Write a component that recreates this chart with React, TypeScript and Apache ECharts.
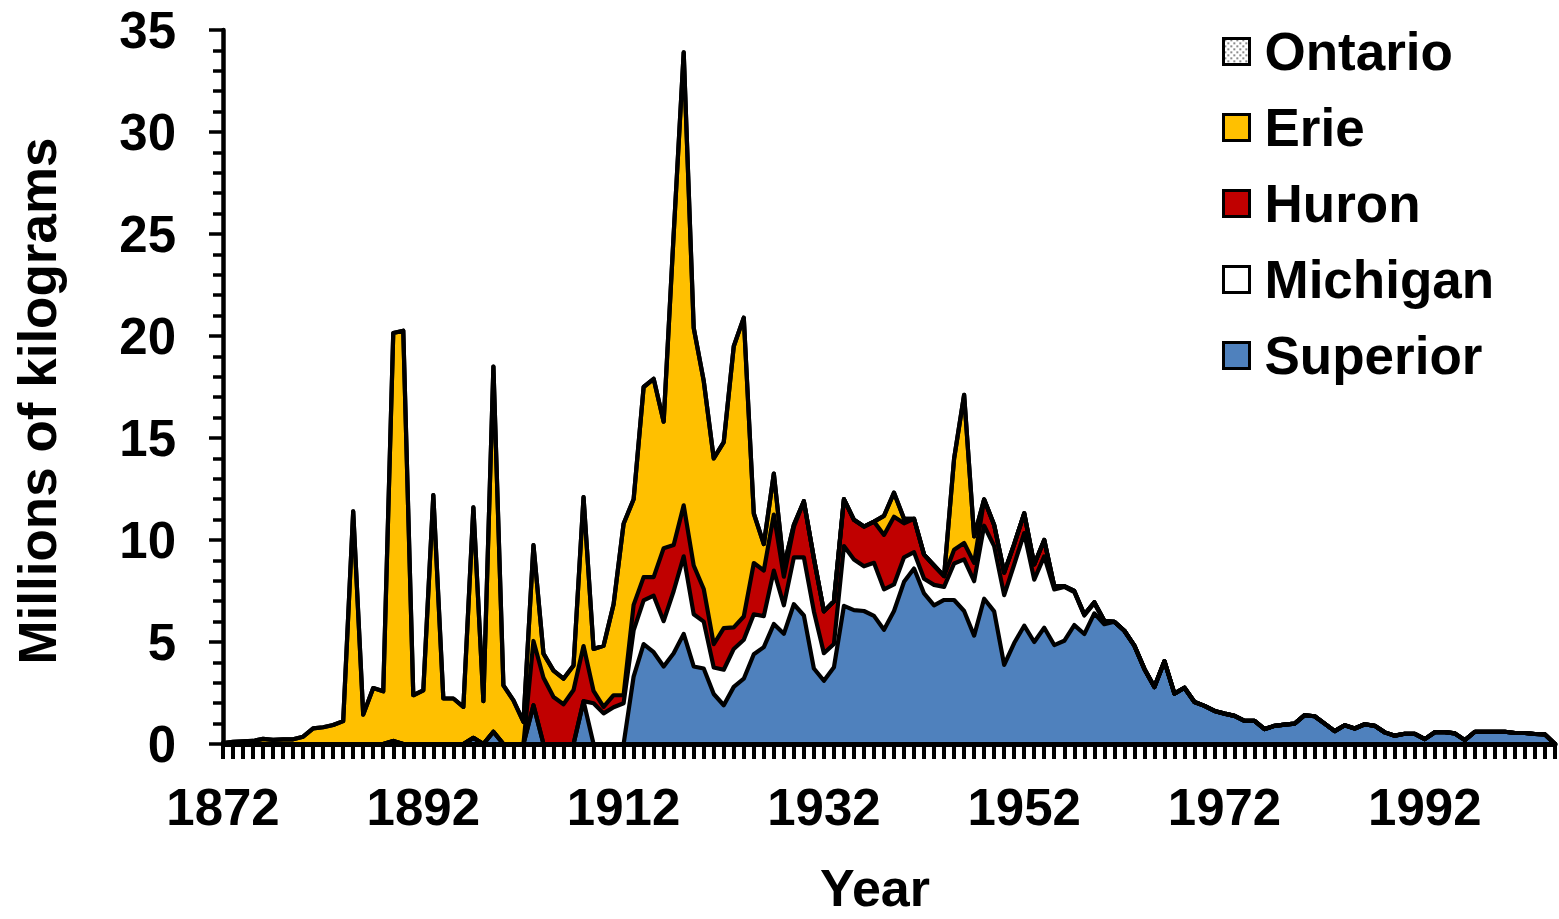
import React, { useEffect, useRef } from 'react';
import * as echarts from 'echarts';

const FONT = "'Liberation Sans', Arial, Helvetica, sans-serif";

const firstYear = 1872;
const lastYear = 2005;
const years: string[] = [];
for (let y = firstYear; y <= lastYear; y++) years.push(String(y));

// Millions of kilograms, 1872 .. 2005 (one value per year)
const superior = [
  0, 0, 0, 0, 0, 0, 0, 0, 0, 0,
  0, 0, 0, 0, 0, 0, 0, 0.15, 0, 0,
  0, 0, 0, 0, 0, 0.3, 0, 0.6, 0, 0,
  0, 1.9, 0, 0, 0, 0, 2.1, 0, 0, 0,
  0, 3.3, 4.9, 4.5, 3.8, 4.45, 5.4, 3.8, 3.7, 2.45,
  1.9, 2.8, 3.2, 4.4, 4.75, 5.88, 5.4, 6.85, 6.3, 3.7,
  3.1, 3.76, 6.77, 6.56, 6.52, 6.28, 5.6, 6.52, 7.95, 8.6,
  7.38, 6.8, 7.06, 7.06, 6.52, 5.31, 7.12, 6.5, 3.88, 4.95,
  5.8, 5.0, 5.7, 4.85, 5.06, 5.83, 5.39, 6.4, 5.87, 5.99,
  5.55, 4.82, 3.68, 2.79, 4.06, 2.47, 2.76, 2.06, 1.87, 1.62,
  1.49, 1.38, 1.13, 1.13, 0.73, 0.89, 0.95, 1.0, 1.41, 1.36,
  1.0, 0.63, 0.92, 0.76, 0.97, 0.89, 0.57, 0.41, 0.5, 0.5,
  0.24, 0.58, 0.58, 0.52, 0.19, 0.6, 0.6, 0.6, 0.6, 0.54,
  0.54, 0.49, 0.47, 0,
];

const michigan = [
  0, 0, 0, 0, 0, 0, 0, 0, 0, 0,
  0, 0, 0, 0, 0, 0, 0, 0, 0, 0,
  0, 0, 0, 0, 0, 0, 0, 0, 0, 0,
  0, 0, 0, 0, 0, 0, 0, 2.0, 1.5, 1.8,
  2.0, 2.27, 2.14, 2.77, 2.22, 3.05, 3.8, 2.56, 2.3, 1.3,
  1.74, 1.86, 1.91, 1.96, 1.52, 2.62, 1.4, 2.3, 2.85, 2.8,
  1.35, 1.14, 2.93, 2.48, 2.19, 2.6, 1.98, 1.3, 1.2, 0.8,
  0.72, 1.0, 0.64, 1.79, 2.53, 2.67, 3.58, 3.2, 3.42, 3.85,
  4.54, 3.06, 3.5, 2.73, 2.64, 1.62, 0.91, 0.5, 0.12, 0,
  0, 0, 0, 0, 0, 0, 0, 0, 0, 0,
  0, 0, 0, 0, 0, 0, 0, 0, 0, 0,
  0, 0, 0, 0, 0, 0, 0, 0, 0, 0,
  0, 0, 0, 0, 0, 0, 0, 0, 0, 0,
  0, 0, 0, 0,
];

const huron = [
  0, 0, 0, 0, 0, 0, 0, 0, 0, 0,
  0, 0, 0, 0, 0, 0, 0, 0, 0, 0,
  0, 0, 0, 0, 0, 0, 0, 0, 0, 0,
  0, 3.15, 3.25, 2.3, 1.95, 2.65, 2.7, 0.6, 0.32, 0.59,
  0.4, 1.25, 1.14, 0.91, 3.58, 2.25, 2.5, 2.39, 1.6, 1.14,
  2.04, 1.06, 1.14, 2.51, 2.23, 2.75, 1.4, 1.5, 2.75, 2.6,
  2.05, 2.1, 2.3, 1.95, 1.95, 2.02, 2.67, 3.32, 1.67, 1.64,
  1.18, 0.95, 0.53, 0.67, 0.8, 0.9, 1.29, 1.04, 1.1, 1.0,
  0.97, 0.74, 0.8, 0.16, 0.04, 0.05, 0.05, 0.05, 0.05, 0,
  0, 0, 0, 0, 0, 0, 0, 0, 0, 0,
  0, 0, 0, 0, 0, 0, 0, 0, 0, 0,
  0, 0, 0, 0, 0, 0, 0, 0, 0, 0,
  0, 0, 0, 0, 0, 0, 0, 0, 0, 0,
  0, 0, 0, 0,
];

const erie = [
  0.05, 0.1, 0.13, 0.15, 0.25, 0.2, 0.23, 0.23, 0.36, 0.77,
  0.82, 0.93, 1.12, 11.4, 1.44, 2.74, 2.58, 20.0, 20.26, 2.39,
  2.63, 12.2, 2.23, 2.23, 1.82, 11.3, 2.1, 17.9, 2.87, 2.14,
  1.08, 4.7, 1.18, 1.3, 1.25, 1.2, 7.3, 2.06, 3.0, 4.46,
  8.4, 5.18, 9.32, 9.72, 6.2, 15.25, 22.2, 11.65, 10.2, 9.11,
  9.12, 13.78, 14.65, 2.43, 1.3, 2.01, 0.5, 0.1, 0, 0,
  0, 0, 0, 0, 0, 0, 0.93, 1.18, 0.22, 0,
  0, 0, 0, 4.47, 7.27, 1.3, 0, 0, 0, 0,
  0, 0, 0, 0, 0, 0, 0, 0, 0, 0,
  0, 0, 0, 0, 0, 0, 0, 0, 0, 0,
  0, 0, 0, 0, 0, 0, 0, 0, 0, 0,
  0, 0, 0, 0, 0, 0, 0, 0, 0, 0,
  0, 0, 0, 0, 0, 0, 0, 0, 0, 0,
  0, 0, 0, 0,
];

const ontario = [
  0, 0, 0, 0, 0, 0, 0, 0, 0, 0,
  0, 0, 0, 0, 0, 0, 0, 0, 0, 0,
  0, 0, 0, 0, 0, 0, 0, 0, 0, 0,
  0, 0, 0, 0, 0, 0, 0, 0, 0, 0,
  0, 0, 0, 0, 0, 0, 0, 0, 0, 0,
  0, 0, 0, 0, 0, 0, 0, 0, 0, 0,
  0, 0, 0, 0, 0, 0, 0, 0, 0, 0,
  0, 0, 0, 0, 0, 0, 0, 0, 0, 0,
  0, 0, 0, 0, 0, 0, 0, 0, 0, 0,
  0, 0, 0, 0, 0, 0, 0, 0, 0, 0,
  0, 0, 0, 0, 0, 0, 0, 0, 0, 0,
  0, 0, 0, 0, 0, 0, 0, 0, 0, 0,
  0, 0, 0, 0, 0, 0, 0, 0, 0, 0,
  0, 0, 0, 0,
];

const legendOrder = ['Ontario', 'Erie', 'Huron', 'Michigan', 'Superior'];

export default function App() {
  const ref = useRef<HTMLDivElement>(null);

  useEffect(() => {
    if (!ref.current) return;
    const chart = echarts.init(ref.current, null, { renderer: 'svg' });

    const cv = document.createElement('canvas');
    cv.width = 6;
    cv.height = 6;
    const ctx = cv.getContext('2d');
    if (ctx) {
      ctx.fillStyle = '#ffffff';
      ctx.fillRect(0, 0, 6, 6);
      ctx.fillStyle = '#333333';
      ctx.fillRect(1, 1, 1.5, 1.5);
      ctx.fillRect(4, 4, 1.5, 1.5);
    }
    const pattern: any = { image: cv, repeat: 'repeat' };

    const layers: { name: string; data: number[]; color: any }[] = [
      { name: 'Superior', data: superior, color: '#4F81BD' },
      { name: 'Michigan', data: michigan, color: '#FFFFFF' },
      { name: 'Huron', data: huron, color: '#C00000' },
      { name: 'Erie', data: erie, color: '#FFC000' },
      { name: 'Ontario', data: ontario, color: pattern },
    ];

    const areaSeries = layers.map((l) => ({
      name: l.name,
      type: 'line',
      stack: 'areas',
      data: l.data,
      symbol: 'none',
      showSymbol: false,
      silent: true,
      z: 2,
      lineStyle: { width: 0, color: l.color },
      itemStyle: { color: l.color },
      areaStyle: { color: l.color, opacity: 1 },
    }));

    const lineSeries = layers.map((l) => ({
      name: l.name + ' outline',
      type: 'line',
      stack: 'lines',
      data: l.data,
      symbol: 'none',
      showSymbol: false,
      silent: true,
      z: 3,
      lineStyle: { width: 4.2, color: '#000', join: 'round', cap: 'round' },
      itemStyle: { color: '#000' },
    }));

    const colorOf: Record<string, any> = {};
    layers.forEach((l) => (colorOf[l.name] = l.color));

    const option: any = {
      animation: false,
      backgroundColor: '#ffffff',
      grid: { left: 223, top: 30, width: 1332, height: 719, containLabel: false },
      legend: {
        orient: 'vertical',
        left: 1222,
        top: 25,
        padding: 0,
        itemWidth: 26,
        itemHeight: 26,
        itemGap: 23,
        icon: 'rect',
        selectedMode: false,
        itemStyle: { borderColor: '#000', borderWidth: 3 },
        textStyle: {
          fontSize: 53,
          fontWeight: 'bold',
          color: '#000',
          fontFamily: FONT,
          lineHeight: 52,
          padding: [0, 0, 0, 10],
        },
        data: legendOrder.map((n) => ({ name: n, itemStyle: { color: colorOf[n] } })),
      },
      xAxis: {
        type: 'category',
        data: years,
        boundaryGap: false,
        z: 10,
        axisLine: { show: true, lineStyle: { color: '#000', width: 5 } },
        axisTick: { show: true, interval: 0, length: 15, lineStyle: { color: '#000', width: 4 } },
        axisLabel: {
          interval: 19,
          margin: 38,
          fontSize: 51,
          fontWeight: 'bold',
          color: '#000',
          fontFamily: FONT,
        },
        splitLine: { show: false },
        name: 'Year',
        nameLocation: 'middle',
        nameGap: 118,
        nameTextStyle: {
          fontSize: 52,
          fontWeight: 'bold',
          color: '#000',
          fontFamily: FONT,
          lineHeight: 52,
          padding: [0, 28, 0, 0],
        },
      },
      yAxis: {
        type: 'value',
        min: 0,
        max: 35,
        interval: 5,
        z: 10,
        axisLine: { show: true, lineStyle: { color: '#000', width: 4.5 } },
        axisTick: { show: true, length: 14, lineStyle: { color: '#000', width: 3.5 } },
        minorTick: { show: true, splitNumber: 5, length: 10, lineStyle: { color: '#000', width: 3.5 } },
        splitLine: { show: false },
        minorSplitLine: { show: false },
        axisLabel: {
          margin: 47,
          fontSize: 51,
          fontWeight: 'bold',
          color: '#000',
          fontFamily: FONT,
        },
        name: 'Millions of kilograms',
        nameLocation: 'middle',
        nameGap: 160,
        nameRotate: 90,
        nameTextStyle: {
          fontSize: 53,
          fontWeight: 'bold',
          color: '#000',
          fontFamily: FONT,
          lineHeight: 52,
          padding: [0, 28, 0, 0],
        },
      },
      series: [...areaSeries, ...lineSeries],
    };

    chart.setOption(option);
    return () => {
      chart.dispose();
    };
  }, []);

  return (
    <div
      ref={ref}
      style={{ position: 'fixed', left: 0, top: 0, width: 1559, height: 919, background: '#fff' }}
    />
  );
}
